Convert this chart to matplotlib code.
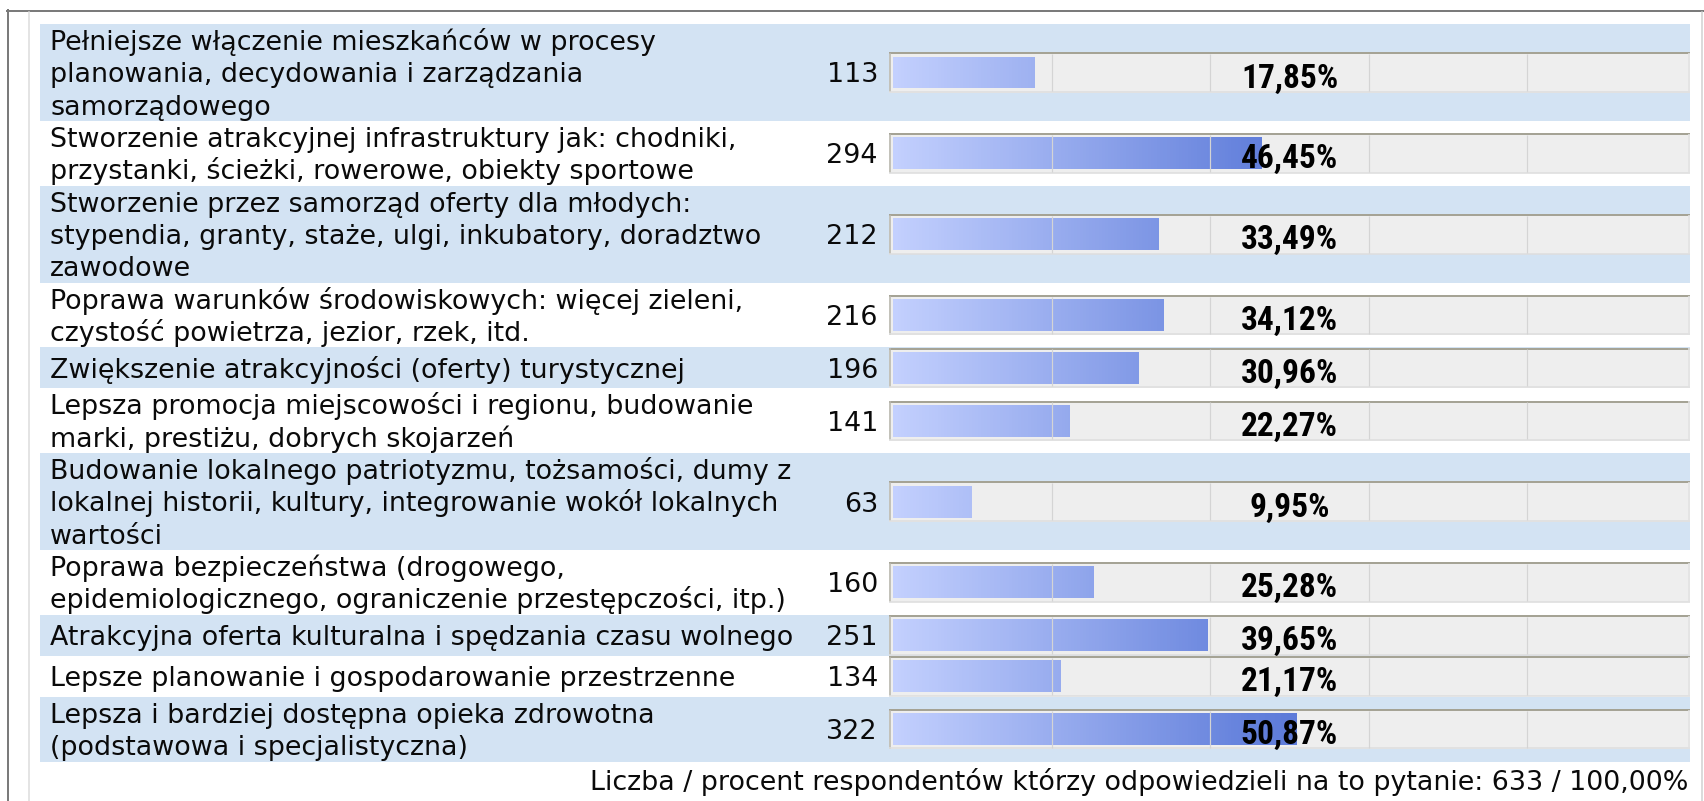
import numpy as np
import matplotlib
matplotlib.use('Agg')
from matplotlib import pyplot as plt
from matplotlib.patches import Rectangle
from matplotlib.colors import LinearSegmentedColormap
from matplotlib import font_manager

# answers (line breaks as wrapped in the survey page)
labels = [
    'Pełniejsze włączenie mieszkańców w procesy\nplanowania, decydowania i zarządzania\nsamorządowego',
    'Stworzenie atrakcyjnej infrastruktury jak: chodniki,\nprzystanki, ścieżki, rowerowe, obiekty sportowe',
    'Stworzenie przez samorząd oferty dla młodych:\nstypendia, granty, staże, ulgi, inkubatory, doradztwo\nzawodowe',
    'Poprawa warunków środowiskowych: więcej zieleni,\nczystość powietrza, jezior, rzek, itd.',
    'Zwiększenie atrakcyjności (oferty) turystycznej',
    'Lepsza promocja miejscowości i regionu, budowanie\nmarki, prestiżu, dobrych skojarzeń',
    'Budowanie lokalnego patriotyzmu, tożsamości, dumy z\nlokalnej historii, kultury, integrowanie wokół lokalnych\nwartości',
    'Poprawa bezpieczeństwa (drogowego,\nepidemiologicznego, ograniczenie przestępczości, itp.)',
    'Atrakcyjna oferta kulturalna i spędzania czasu wolnego',
    'Lepsze planowanie i gospodarowanie przestrzenne',
    'Lepsza i bardziej dostępna opieka zdrowotna\n(podstawowa i specjalistyczna)',
]
counts = [113, 294, 212, 216, 196, 141, 63, 160, 251, 134, 322]
percents = [17.85, 46.45, 33.49, 34.12, 30.96, 22.27, 9.95, 25.28, 39.65, 21.17, 50.87]
total_n = 633
total_pct = '100,00%'

W, H = 1704, 801
PX = 0.72  # pixel -> point at dpi 100
FS = 19.35

plt.rcParams['font.family'] = ['DejaVu Sans']

# narrow bold face for the percent labels, whichever is installed
installed = {f.name for f in font_manager.fontManager.ttflist}
pct_font = 'DejaVu Sans'
for name in ['Liberation Sans Narrow', 'DejaVu Sans Condensed', 'Roboto Condensed', 'Roboto']:
    if name in installed:
        pct_font = name
        break

fig = plt.figure(figsize=(W / 100, H / 100), dpi=100)
fig.patch.set_facecolor('white')

# background axes in pixel coordinates
bg = fig.add_axes([0, 0, 1, 1])
bg.set_xlim(0, W)
bg.set_ylim(H, 0)
bg.axis('off')

# bar axes: 0..100 % mapped onto the track
x0, x1 = 893, 1686
ax = fig.add_axes([x0 / W, 0, (x1 - x0) / W, 1])
ax.set_xlim(0, 100)
ax.set_ylim(H, 0)
ax.axis('off')

# frame
bg.plot([7, W - 1], [10.5, 10.5], color='#7b7b7b', lw=2 * PX)
bg.plot([7.5, 7.5], [10, H], color='#7b7b7b', lw=2 * PX)
bg.plot([28.5, 28.5], [12, H], color='#dcdcdc', lw=1.5 * PX)
bg.plot([1701.5, 1701.5], [12, H], color='#d0d0d0', lw=1.5 * PX)

# row layout
line_h = 32.3
tops, centers, heights = [], [], []
y = 24
for lab in labels:
    n = lab.count('\n') + 1
    h = 41 if n == 1 else n * line_h + 0.1
    tops.append(y)
    heights.append(h)
    centers.append(y + h / 2)
    y += h
centers = np.array(centers)

for i, lab in enumerate(labels):
    top, h = tops[i], heights[i]
    if i % 2 == 0:
        bg.add_patch(Rectangle((40, top), 1690 - 40, h, fc='#d3e3f3', ec='none', zorder=0))
    lines = lab.split('\n')
    slot = top + (h - len(lines) * line_h) / 2
    for j, ln in enumerate(lines):
        bg.text(50, slot + j * line_h + 26, ln, fontsize=FS, color='#0a0a0a',
                ha='left', va='baseline')
    bg.text(878, centers[i] + 10, str(counts[i]), fontsize=FS, color='#0a0a0a',
            ha='right', va='baseline')

# track boxes
for yc in centers:
    ax.add_patch(Rectangle((-0.5, yc - 20), 101, 40, fc='#eeeeee', ec='none',
                           clip_on=False, zorder=1))
    ax.plot([-0.5, 100.5], [yc - 19.2, yc - 19.2], color='#a5a395', lw=2 * PX,
            clip_on=False, zorder=2, solid_capstyle='butt')
    ax.plot([-0.4, -0.4], [yc - 19.5, yc + 19.5], color='#b9b8ae', lw=1.6 * PX,
            clip_on=False, zorder=2, solid_capstyle='butt')
    ax.plot([-0.5, 100.5], [yc + 19.3, yc + 19.3], color='#dedede', lw=1.6 * PX,
            clip_on=False, zorder=2, solid_capstyle='butt')
    ax.plot([100.4, 100.4], [yc - 19.5, yc + 19.5], color='#e2e2e2', lw=1.6 * PX,
            clip_on=False, zorder=2, solid_capstyle='butt')

# bars with a gradient along the 0-100 % scale
bars = ax.barh(centers, percents, height=32, left=0, color='none', zorder=3)
cmap = LinearSegmentedColormap.from_list('bar', [(0, '#c3d0fe'), (0.45, '#6481dc'),
                                                 (1, '#2a4ac0')])
grad = np.linspace(0, 1, 256).reshape(1, -1)
for b in bars:
    im = ax.imshow(grad, cmap=cmap, extent=(0, 100, H, 0), aspect='auto',
                   interpolation='bilinear', zorder=3)
    im.set_clip_path(b)

# grid lines on the track
for yc in centers:
    ax.vlines([20, 40, 60, 80], yc - 18.5, yc + 18.5, color='#d4d4d4',
              lw=1.2 * PX, zorder=4)

ax.set_xlim(0, 100)
ax.set_ylim(H, 0)

# percent labels
for yc, p in zip(centers, percents):
    ax.text(50, yc + 15, f'{p:.2f}'.replace('.', ',') + '%',
            family=pct_font, fontweight='bold', fontsize=24, color='#000000',
            ha='center', va='baseline', zorder=5)

# footer
bg.text(1688, tops[-1] + heights[-1] + 29,
        f'Liczba / procent respondentów którzy odpowiedzieli na to pytanie: {total_n} / {total_pct}',
        fontsize=FS, color='#0a0a0a', ha='right', va='baseline')

fig.savefig('out.png', dpi=100)
